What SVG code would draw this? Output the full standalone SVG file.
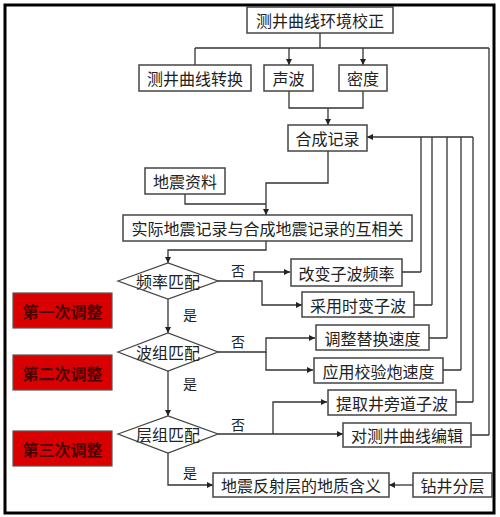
<svg xmlns="http://www.w3.org/2000/svg" width="500" height="517" viewBox="0 0 500 517">
<defs>
<marker id="ah" viewBox="0 0 10 10" refX="10" refY="5" markerWidth="6" markerHeight="6" markerUnits="userSpaceOnUse" orient="auto">
<path d="M0,0 L10,5 L0,10 z" fill="#222"/>
</marker>
<style>
.box{fill:#fff;stroke:#444;stroke-width:1.5}
.dia{fill:#fff;stroke:#444;stroke-width:1.3}
.red{fill:#d80000;stroke:#555;stroke-width:1.2}
.t{font-family:"Noto Sans CJK SC","Noto Sans",sans-serif;font-size:16px;fill:#222;text-anchor:middle;dominant-baseline:central}
.rt{font-family:"Noto Sans CJK SC",sans-serif;font-size:16px;font-weight:bold;fill:#4a0000;text-anchor:middle;dominant-baseline:central}
.lb{font-family:"Noto Sans CJK SC",sans-serif;font-size:14px;fill:#222;text-anchor:middle;dominant-baseline:central}
.c{fill:none;stroke:#333;stroke-width:1.3}
.a{fill:none;stroke:#333;stroke-width:1.3;marker-end:url(#ah)}
</style>
</defs>
<rect x="0" y="0" width="500" height="517" fill="#fff"/>
<rect x="5" y="5" width="489" height="508" fill="none" stroke="#000" stroke-width="3"/>

<g id="connectors">
<path class="c" d="M320 33 V48 M195 48 H489 M195 48 V65"/>
<path class="a" d="M289 48 V65"/>
<path class="a" d="M363 48 V65"/>
<path class="c" d="M289 91 V108 H363 V91"/>
<path class="a" d="M328 108 V125"/>
<path class="a" d="M473 137 H367"/>
<path class="c" d="M421 272 V137 M432 305 V137 M447 338 V137 M461 370 V137 M473 402 V137 M489 435 V48"/>
<path class="a" d="M328 151 V183 H266 V215"/>
<path class="c" d="M185 194 V204 H266"/>
<path class="a" d="M266 241 V250 H168 V263"/>
<path class="a" d="M218 281 H262 V305 H302"/>
<path class="a" d="M254 281 V272 H290"/>
<path class="c" d="M402 272 H421 M414 305 H432"/>
<path class="a" d="M168 299 V333"/>
<path class="a" d="M218 352 H266 V338 H315"/>
<path class="a" d="M266 352 V370 H313"/>
<path class="c" d="M429 338 H447 M443 370 H461"/>
<path class="a" d="M168 371 V416"/>
<path class="a" d="M218 434 H343"/>
<path class="a" d="M273 434 V402 H327"/>
<path class="c" d="M456 402 H473 M471 435 H489"/>
<path class="a" d="M168 453 V485 H213"/>
<path class="a" d="M413 485 H389"/>
<text class="lb" x="238" y="270">否</text>
<text class="lb" x="238" y="341">否</text>
<text class="lb" x="238" y="424">否</text>
<text class="lb" x="190" y="314">是</text>
<text class="lb" x="190" y="383">是</text>
<text class="lb" x="190" y="472">是</text>
</g>

<g id="n-top"><rect class="box" x="247" y="7" width="146" height="26"/><text class="t" x="320" y="20">测井曲线环境校正</text></g>
<g id="n-convert"><rect class="box" x="139" y="65" width="112" height="26"/><text class="t" x="195" y="78">测井曲线转换</text></g>
<g id="n-sonic"><rect class="box" x="264" y="65" width="49" height="26"/><text class="t" x="288.5" y="78">声波</text></g>
<g id="n-density"><rect class="box" x="339" y="65" width="48" height="26"/><text class="t" x="363" y="78">密度</text></g>
<g id="n-synth"><rect class="box" x="288" y="125" width="79" height="26"/><text class="t" x="327.5" y="138">合成记录</text></g>
<g id="n-seis"><rect class="box" x="145" y="168" width="80" height="26"/><text class="t" x="185" y="181">地震资料</text></g>
<g id="n-corr"><rect class="box" x="123" y="215" width="289" height="26"/><text class="t" x="267.5" y="228">实际地震记录与合成地震记录的互相关</text></g>
<g id="d-freq"><polygon class="dia" points="118,281 168,263 218,281 168,299"/><text class="t" x="168" y="281">频率匹配</text></g>
<g id="n-chfreq"><rect class="box" x="291" y="259" width="111" height="27"/><text class="t" x="346.5" y="272.5">改变子波频率</text></g>
<g id="n-tv"><rect class="box" x="302" y="292" width="112" height="25"/><text class="t" x="358" y="304.5">采用时变子波</text></g>
<g id="d-wave"><polygon class="dia" points="118,352 168,333 218,352 168,371"/><text class="t" x="168" y="352">波组匹配</text></g>
<g id="n-repl"><rect class="box" x="316" y="325" width="113" height="25"/><text class="t" x="372.5" y="337.5">调整替换速度</text></g>
<g id="n-check"><rect class="box" x="314" y="358" width="129" height="25"/><text class="t" x="378.5" y="370.5">应用校验炮速度</text></g>
<g id="d-layer"><polygon class="dia" points="118,434 168,416 218,434 168,453"/><text class="t" x="168" y="434">层组匹配</text></g>
<g id="n-extract"><rect class="box" x="328" y="390" width="128" height="25"/><text class="t" x="392" y="402.5">提取井旁道子波</text></g>
<g id="n-edit"><rect class="box" x="343" y="423" width="128" height="24"/><text class="t" x="407" y="435">对测井曲线编辑</text></g>
<g id="n-geo"><rect class="box" x="213" y="473" width="176" height="24"/><text class="t" x="301" y="485">地震反射层的地质含义</text></g>
<g id="n-drill"><rect class="box" x="413" y="473" width="79" height="24"/><text class="t" x="452.5" y="485">钻井分层</text></g>
<g id="r1"><rect class="red" x="13" y="293" width="99" height="35"/><text class="rt" x="62.5" y="310.5">第一次调整</text></g>
<g id="r2"><rect class="red" x="13" y="355" width="99" height="35"/><text class="rt" x="62.5" y="372.5">第二次调整</text></g>
<g id="r3"><rect class="red" x="13" y="431" width="99" height="35"/><text class="rt" x="62.5" y="448.5">第三次调整</text></g>
</svg>
